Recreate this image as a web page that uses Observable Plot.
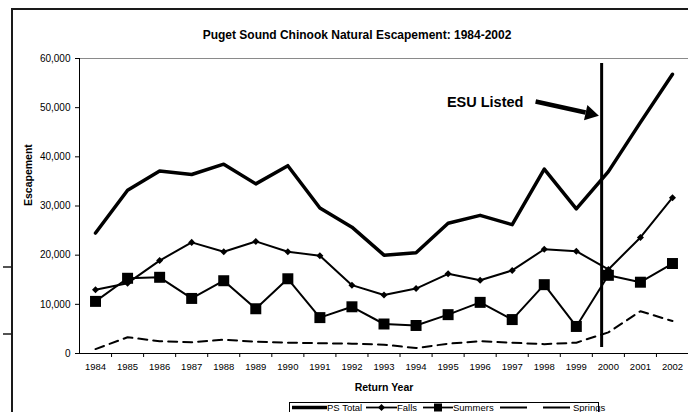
<!DOCTYPE html>
<html><head><meta charset="utf-8">
<script src="https://cdn.jsdelivr.net/npm/d3@7"></script>
<script src="https://cdn.jsdelivr.net/npm/@observablehq/plot@0.6"></script>
<style>
body{margin:0;background:#fff;}
#wrap{position:relative;width:688px;height:412px;overflow:hidden;font-family:"Liberation Sans",Arial,sans-serif;background:#fff;}
#wrap svg{position:absolute;left:0;top:0;}
</style></head><body><div id="wrap"></div>
<script>
// ---- data ----
const years = [1984,1985,1986,1987,1988,1989,1990,1991,1992,1993,1994,1995,1996,1997,1998,1999,2000,2001,2002];
const psTotal = [24500,33200,37100,36400,38500,34500,38200,29600,25700,20000,20500,26500,28100,26200,37500,29400,37000,47000,56800];
const falls   = [12950,14300,18900,22600,20700,22800,20700,19900,13900,11900,13200,16200,14900,16900,21200,20800,17100,23600,31700];
const summers = [10600,15300,15500,11200,14800,9100,15200,7300,9500,6000,5700,7900,10400,6900,14000,5500,15900,14500,18300];
const springs = [900,3300,2500,2300,2800,2400,2200,2100,2000,1800,1100,2000,2500,2200,1900,2200,4300,8600,6600];
const seriesNames = ["PS Total","Falls","Summers","Springs"];
const yTicks = [0,10000,20000,30000,40000,50000,60000];
const titleText = "Puget Sound Chinook Natural Escapement: 1984-2002";
const yLabel = "Escapement";
const xLabel = "Return Year";
const esuLabel = "ESU Listed";
// annotation anchors (data units)
const esuYear = [1999.79];
const esuSpan = [1200, 59000];
const esuTextPos = [{x:1997.35, y:51100}];
const arrowBody = [{x1:1997.73, y1:51250, x2:1999.29, y2:49020}];
const arrowHead = [{x:1999.43, y:48770}];

// ---- build ----
const rows = years.map((y,i)=>({year:y, ps:psTotal[i], falls:falls[i], summers:summers[i], springs:springs[i]}));
const xDomain = [years[0]-0.5, years[years.length-1]+0.5];
const boundaryTicks = d3.range(years[0]+0.5, years[years.length-1]+1, 1);

const rhombus = {draw(ctx, size){ const h=Math.sqrt(size/2); ctx.moveTo(0,-h); ctx.lineTo(h,0); ctx.lineTo(0,h); ctx.lineTo(-h,0); ctx.closePath(); }};

const chart = Plot.plot({
  width: 688, height: 412,
  marginLeft: 79, marginRight: 0, marginTop: 58, marginBottom: 59,
  style: {fontFamily: "Liberation Sans, Arial, sans-serif", fontSize: "10px", background: "transparent", color: "#000", overflow: "visible"},
  x: {domain: xDomain, axis: null},
  y: {domain: [0, 60000], axis: null},
  marks: [
    Plot.ruleY([60000], {stroke: "#8a8a8a", strokeWidth: 1}),
    Plot.axisY({ticks: yTicks, tickFormat: d3.format(","), tickSize: 4, tickPadding: 5, fontSize: 10, label: null, anchor: "left"}),
    Plot.axisX({ticks: boundaryTicks, tickFormat: () => "", tickSize: 4, label: null, anchor: "bottom"}),
    Plot.axisX({ticks: years, tickFormat: d => String(d), tickSize: 0, tickPadding: 10, fontSize: 9.5, label: null, anchor: "bottom"}),
    Plot.ruleY([0], {stroke: "#000"}),
    Plot.ruleX([xDomain[0]], {stroke: "#000"}),
    Plot.line(rows, {x: "year", y: "springs", stroke: "#000", strokeWidth: 2, strokeDasharray: "9,6"}),
    Plot.line(rows, {x: "year", y: "falls", stroke: "#000", strokeWidth: 2}),
    Plot.dot(rows, {x: "year", y: "falls", symbol: rhombus, r: 2.8, fill: "#000", stroke: null}),
    Plot.line(rows, {x: "year", y: "summers", stroke: "#000", strokeWidth: 2}),
    Plot.dot(rows, {x: "year", y: "summers", symbol: "square", r: 6.2, fill: "#000", stroke: null}),
    Plot.line(rows, {x: "year", y: "ps", stroke: "#000", strokeWidth: 3.5}),
    Plot.ruleX(esuYear, {y1: esuSpan[0], y2: esuSpan[1], stroke: "#000", strokeWidth: 3}),
    Plot.link(arrowBody, {x1: "x1", y1: "y1", x2: "x2", y2: "y2", stroke: "#000", strokeWidth: 4.5}),
    Plot.dot(arrowHead, {x: "x", y: "y", symbol: "triangle", r: 5.8, rotate: 102.5, fill: "#000", stroke: null}),
    Plot.text(esuTextPos, {x: "x", y: "y", text: () => esuLabel, textAnchor: "end", fontWeight: "bold", fontSize: 14.5}),
    Plot.text([titleText], {text: d => d, frameAnchor: "top", lineAnchor: "middle", dy: -23, dx: -27, fontWeight: "bold", fontSize: 12}),
    Plot.text([yLabel], {text: d => d, frameAnchor: "left", rotate: -90, dx: -51, fontWeight: "bold", fontSize: 10.5}),
    Plot.text([xLabel], {text: d => d, frameAnchor: "bottom", lineAnchor: "middle", dy: 34, fontWeight: "bold", fontSize: 10.5})
  ]
});
const wrap = document.getElementById("wrap");
wrap.appendChild(chart);

// ---- frame and legend overlay ----
const ov = d3.select(wrap).append("svg").attr("width", 688).attr("height", 412)
  .style("font-family", "Liberation Sans, Arial, sans-serif");
ov.append("line").attr("x1", 11).attr("x2", 688).attr("y1", 9).attr("y2", 9).attr("stroke", "#1a1a1a").attr("stroke-width", 2);
ov.append("line").attr("x1", 12).attr("x2", 12).attr("y1", 8).attr("y2", 412).attr("stroke", "#1a1a1a").attr("stroke-width", 2);
[267, 334].forEach(y => ov.append("line").attr("x1", 3).attr("x2", 12).attr("y1", y).attr("y2", y).attr("stroke", "#1a1a1a").attr("stroke-width", 1.5));

const lg = ov.append("g");
lg.append("rect").attr("x", 289.5).attr("y", 402.5).attr("width", 309).attr("height", 20).attr("fill", "#fff").attr("stroke", "#000");
const ly = 407.5;
const items = [
  {name: seriesNames[0], x1: 292, x2: 327, w: 3.5, dash: null, sym: null},
  {name: seriesNames[1], x1: 366, x2: 397, w: 1.8, dash: null, sym: "diamond"},
  {name: seriesNames[2], x1: 423, x2: 453, w: 1.8, dash: null, sym: "square"},
  {name: seriesNames[3], x1: 500, x2: 573, w: 2, dash: "27,16", sym: null}
];
items.forEach(it => {
  lg.append("line").attr("x1", it.x1).attr("x2", it.x2).attr("y1", ly).attr("y2", ly)
    .attr("stroke", "#000").attr("stroke-width", it.w).attr("stroke-dasharray", it.dash);
  const cx = (it.x1 + it.x2) / 2;
  if (it.sym === "diamond") lg.append("path").attr("d", `M${cx},${ly-3.5}L${cx+3.5},${ly}L${cx},${ly+3.5}L${cx-3.5},${ly}Z`).attr("fill", "#000");
  if (it.sym === "square") lg.append("rect").attr("x", cx-4).attr("y", ly-4).attr("width", 8).attr("height", 8).attr("fill", "#000");
  lg.append("text").attr("x", it.x2).attr("y", ly).attr("dy", "0.32em").attr("font-size", 9.5).text(it.name);
});
</script>
</body></html>
